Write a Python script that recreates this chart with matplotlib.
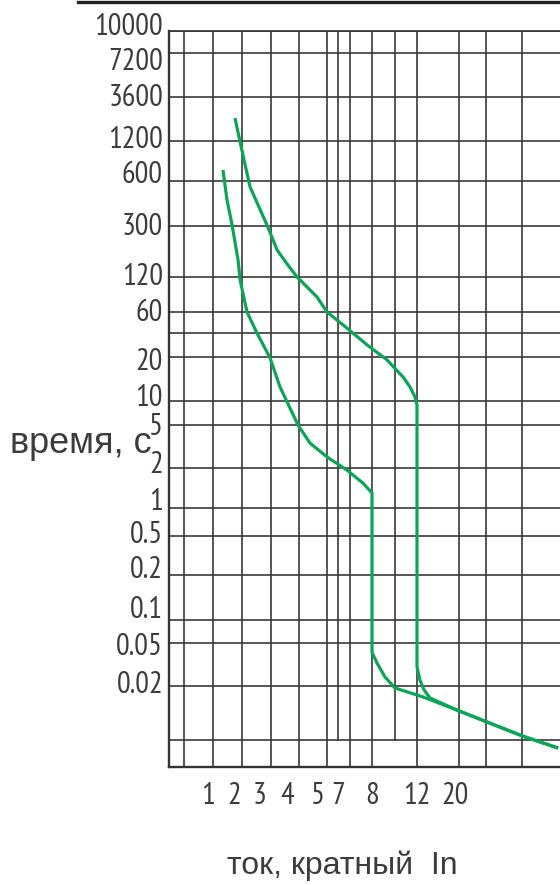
import numpy as np
import matplotlib
matplotlib.use("Agg")
import matplotlib.pyplot as plt
from matplotlib.lines import Line2D
from matplotlib.ticker import NullLocator
from matplotlib.transforms import ScaledTranslation

# ---------------- data ----------------
y_tick_values = [10000, 7200, 3600, 1200, 600, 300, 120, 60, 20, 10, 5, 2, 1,
                 0.5, 0.2, 0.1, 0.05, 0.02]
y_tick_labels = ["10000", "7200", "3600", "1200", "600", "300", "120", "60",
                 "20", "10", "5", "2", "1", "0.5", "0.2", "0.1", "0.05", "0.02"]
y_extra_grid = [40, 0.005]

x_tick_values = [1, 2, 3, 4, 5, 7, 8, 12, 20]
x_tick_labels = ["1", "2", "3", "4", "5", "7", "8", "12", "20"]

curve_b_current = [1.49, 1.66, 1.90, 2.13, 2.20, 2.30, 2.45, 2.86, 3.34, 3.71,
                   4.33, 4.72, 5.82, 7.25, 7.72, 8.0, 8.0, 8.37, 9.0, 9.84,
                   13.0, 20.5, 32.0, 50.0, 80.0]
curve_b_time = [726, 448, 305, 163, 113, 87, 60, 40, 19.7, 12.5,
                5.0, 3.4, 2.53, 1.93, 1.54, 1.30, 0.041, 0.0326, 0.0242, 0.019,
                0.0151, 0.0108, 0.0077, 0.0055, 0.0038]

curve_c_current = [2.03, 2.20, 2.38, 2.57, 2.91, 3.23, 3.60, 4.0, 4.30, 4.96,
                   5.82, 7.25, 7.85, 9.16, 10.58, 11.26, 11.79, 12.0, 12.0,
                   12.49, 13.19, 14.29, 20.5, 32.0, 50.0, 80.0]
curve_c_time = [2130, 1180, 792, 547, 415, 305, 195, 152, 120, 81,
                60, 44, 28.3, 19.1, 14.6, 12.5, 10.65, 8.9, 0.030,
                0.0227, 0.0181, 0.0147, 0.0108, 0.0077, 0.0055, 0.0038]

# ---------------- scale layout (irregular printed grid) ----------------
x_anchor_vals = [1, 2, 3, 4, 5, 7, 8, 12, 20]
x_anchor_pos = [39, 65, 91, 118, 149, 169, 203, 248, 286]
x_grid_pos = [15, 44, 73, 102, 130, 158, 169, 181, 203, 226, 248, 290, 317, 353]
x_short_grid_pos = [169, 226]
x_limits_pos = (0, 393)

y_anchor_vals = [10000, 7200, 3600, 1200, 600, 300, 120, 60, 40, 20, 10, 5, 2,
                 1, 0.5, 0.2, 0.1, 0.05, 0.02, 0.005, 0.002]
y_anchor_pos = [736, 714, 670, 626, 586, 541, 490, 455, 434, 410, 366, 342,
                299, 259, 231, 192, 147, 124, 81, 27, 0]
y_label_nudge_px = [-4, 9, 1, -1, -6, 1, 0, 1, 5, -3, 2, -3, -6, -1, -5, -10, 4, -1]


def piecewise(xs, ys):
    xs = np.asarray(xs, float)
    ys = np.asarray(ys, float)
    s0 = (ys[1] - ys[0]) / (xs[1] - xs[0])
    s1 = (ys[-1] - ys[-2]) / (xs[-1] - xs[-2])

    def f(v):
        v = np.asarray(v, float)
        out = np.interp(v, xs, ys)
        out = np.where(v < xs[0], ys[0] + (v - xs[0]) * s0, out)
        out = np.where(v > xs[-1], ys[-1] + (v - xs[-1]) * s1, out)
        return out
    return f


def safe_log(v):
    v = np.asarray(v, float)
    with np.errstate(divide="ignore", invalid="ignore"):
        return np.log10(np.where(v > 0, v, 1e-12))


xl = np.log10(x_anchor_vals)
_fx = piecewise(xl, x_anchor_pos)
_fxi = piecewise(x_anchor_pos, xl)
fx = lambda v: _fx(safe_log(v))
fxi = lambda p: 10 ** _fxi(p)

yl = np.log10(y_anchor_vals)[::-1]
yp = np.asarray(y_anchor_pos, float)[::-1]
_fy = piecewise(yl, yp)
_fyi = piecewise(yp, yl)
fy = lambda v: _fy(safe_log(v))
fyi = lambda p: 10 ** _fyi(p)

# ---------------- figure ----------------
W, H = 560, 885
fig = plt.figure(figsize=(W / 100, H / 100), dpi=100)
left, right, top, bottom = 169, 562, 31, 767
ax = fig.add_axes([left / W, (H - bottom) / H, (right - left) / W,
                   (bottom - top) / H])

ax.set_xscale("function", functions=(fx, fxi))
ax.set_yscale("function", functions=(fy, fyi))
ax.set_xlim(fxi(x_limits_pos[0]), fxi(x_limits_pos[1]))
ax.set_ylim(y_anchor_vals[-1], y_anchor_vals[0])

grid_color = "#3a3a3a"
for v in y_tick_values + y_extra_grid:
    ax.axhline(v, color=grid_color, lw=1.2, zorder=1)
for p in x_grid_pos:
    xv = float(fxi(p))
    if p in x_short_grid_pos:
        ax.plot([xv, xv], [y_extra_grid[-1], y_anchor_vals[0]],
                color=grid_color, lw=1.2, zorder=1)
    else:
        ax.axvline(xv, color=grid_color, lw=1.2, zorder=1)

green = "#0aa655"
ax.plot(curve_b_current, curve_b_time, color=green, lw=2.3, zorder=3,
        solid_joinstyle="round", solid_capstyle="butt")
ax.plot(curve_c_current, curve_c_time, color=green, lw=2.3, zorder=3,
        solid_joinstyle="round", solid_capstyle="butt")

ax.spines["right"].set_visible(False)
ax.spines["top"].set_linewidth(1.2)
ax.spines["left"].set_linewidth(1.7)
ax.spines["bottom"].set_linewidth(1.7)
for s in ["top", "left", "bottom"]:
    ax.spines[s].set_color("#333333")

narrow = ["PT Sans Narrow", "Roboto Condensed", "Liberation Sans"]
text_color = "#3c3c3c"
ax.set_yticks(y_tick_values)
ax.set_yticklabels([])
for v, lab, nud in zip(y_tick_values, y_tick_labels, y_label_nudge_px):
    ax.text(-0.015, v, lab, transform=ax.get_yaxis_transform()
            + ScaledTranslation(0, -nud / 100, fig.dpi_scale_trans),
            ha="right", va="center", family=narrow, fontsize=22,
            color=text_color)
ax.set_xticks(x_tick_values)
ax.set_xticklabels(x_tick_labels, family=narrow, fontsize=22, color=text_color)
ax.xaxis.set_minor_locator(NullLocator())
ax.yaxis.set_minor_locator(NullLocator())
ax.tick_params(axis="y", length=0, pad=4)
ax.tick_params(axis="x", length=0, pad=11)

fig.text(10 / W, (H - 453) / H, "время, с", family=["Liberation Sans"],
         fontsize=26, color=text_color, ha="left", va="baseline")
fig.text(227 / W, (H - 874) / H, "ток, кратный  In", family=["Liberation Sans"],
         fontsize=23, color=text_color, ha="left", va="baseline")

fig.add_artist(Line2D([78 / W, 1.0], [1 - 1.5 / H, 1 - 1.5 / H],
                      transform=fig.transFigure, lw=2.4, color="#222222"))

fig.savefig("out.png", dpi=100)
